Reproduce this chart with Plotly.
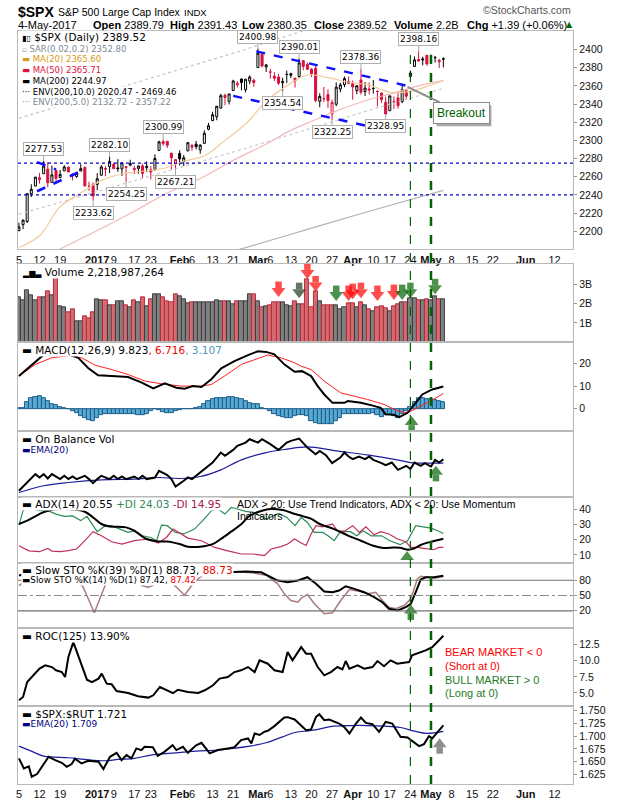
import plotly.graph_objects as go

W, H = 620, 800

# trading-day index: 0 = 5-Dec-2016 ... 103 = 4-May-2017 (weekdays continue to the right)
opens = [2200.65, 2207.26, 2210.72, 2241.13, 2249.73, 2258.83, 2263.32, 2268.35, 2253.77, 2266.81,
         2259.24, 2266.50, 2270.54, 2262.93, 2260.25, 2266.23, 2270.23, 2249.50, 2251.61, 2251.57,
         2261.60, 2268.18, 2271.14, 2273.59, 2269.72, 2268.60, 2271.14, 2272.74, 2269.14, 2269.14,
         2271.90, 2269.96, 2267.78, 2267.88, 2288.88, 2298.63, 2299.02, 2286.01, 2274.02, 2285.59,
         2276.69, 2288.54, 2294.28, 2295.87, 2289.55, 2296.70, 2312.27, 2321.72, 2326.12, 2335.58,
         2349.64, 2343.01, 2354.91, 2361.11, 2367.50, 2355.73, 2365.23, 2366.08, 2380.13, 2394.75,
         2380.92, 2375.23, 2370.74, 2369.81, 2363.49, 2372.52, 2371.56, 2368.55, 2370.34, 2387.71,
         2383.71, 2378.24, 2379.32, 2343.00, 2345.97, 2350.42, 2329.11, 2339.79, 2356.54, 2361.31,
         2364.82, 2362.34, 2354.76, 2366.59, 2353.79, 2356.59, 2357.16, 2353.92, 2352.15, 2341.98,
         2332.62, 2342.53, 2346.79, 2342.69, 2354.74, 2370.33, 2381.51, 2388.98, 2389.70, 2393.68,
         2388.50, 2391.05, 2386.50, 2389.79]
highs = [2209.42, 2212.78, 2241.63, 2251.69, 2259.27, 2264.03, 2277.53, 2276.20, 2272.12, 2268.05,
         2267.47, 2272.56, 2271.23, 2263.18, 2263.79, 2273.82, 2271.31, 2254.51, 2253.58, 2263.88,
         2272.82, 2271.50, 2282.10, 2275.49, 2279.27, 2275.32, 2271.78, 2278.68, 2272.08, 2272.01,
         2274.33, 2276.96, 2271.78, 2284.63, 2299.55, 2300.99, 2299.02, 2286.01, 2279.09, 2289.14,
         2283.97, 2298.31, 2296.18, 2299.40, 2295.91, 2311.08, 2319.23, 2331.58, 2337.58, 2351.30,
         2351.31, 2351.16, 2366.71, 2365.13, 2368.26, 2367.34, 2371.54, 2367.79, 2400.98, 2394.75,
         2383.89, 2378.80, 2375.12, 2373.09, 2369.08, 2376.86, 2374.42, 2368.55, 2390.01, 2388.10,
         2385.71, 2379.55, 2381.93, 2351.81, 2358.92, 2356.22, 2344.90, 2363.78, 2363.36, 2370.42,
         2370.35, 2365.87, 2360.53, 2378.36, 2364.16, 2363.76, 2366.37, 2355.22, 2352.72, 2348.26,
         2349.14, 2348.35, 2352.63, 2361.37, 2356.18, 2376.98, 2392.48, 2398.16, 2392.10, 2393.68,
         2394.49, 2392.93, 2389.82, 2391.43]
lows = [2199.97, 2202.21, 2208.93, 2237.57, 2249.73, 2252.37, 2263.32, 2248.44, 2253.77, 2254.24,
        2258.21, 2266.14, 2265.15, 2256.08, 2258.84, 2266.15, 2249.11, 2244.56, 2233.62, 2245.13,
        2261.60, 2260.45, 2264.06, 2268.90, 2265.27, 2260.83, 2254.25, 2271.51, 2262.81, 2263.35,
        2258.41, 2265.01, 2257.02, 2266.68, 2288.88, 2294.08, 2291.62, 2268.04, 2267.21, 2272.44,
        2271.65, 2287.88, 2288.57, 2290.16, 2285.38, 2296.61, 2311.10, 2321.42, 2322.17, 2334.81,
        2338.87, 2339.58, 2354.91, 2358.34, 2355.09, 2352.87, 2361.87, 2358.96, 2380.13, 2380.17,
        2375.39, 2367.98, 2365.51, 2361.01, 2354.54, 2363.04, 2368.52, 2358.18, 2368.94, 2377.18,
        2377.64, 2369.66, 2341.90, 2336.45, 2342.13, 2335.74, 2322.25, 2337.63, 2352.94, 2358.58,
        2362.60, 2344.73, 2350.72, 2350.52, 2348.90, 2350.74, 2351.50, 2337.25, 2341.18, 2328.95,
        2332.51, 2334.54, 2335.05, 2340.91, 2344.51, 2369.19, 2381.15, 2386.78, 2382.68, 2382.36,
        2384.83, 2385.82, 2379.75, 2380.35]
closes = [2204.71, 2212.23, 2241.35, 2246.19, 2259.53, 2256.96, 2271.72, 2253.28, 2262.03, 2258.07,
          2262.53, 2270.76, 2265.18, 2260.96, 2263.79, 2268.88, 2249.92, 2249.26, 2238.83, 2257.83,
          2270.75, 2269.00, 2276.98, 2268.90, 2268.90, 2275.32, 2270.44, 2274.64, 2267.89, 2271.89,
          2263.69, 2271.31, 2265.20, 2280.07, 2298.37, 2296.68, 2294.69, 2280.90, 2278.87, 2279.55,
          2280.85, 2297.42, 2292.56, 2293.08, 2294.67, 2307.87, 2316.10, 2328.25, 2337.58, 2349.25,
          2347.22, 2351.16, 2365.38, 2362.82, 2363.81, 2367.34, 2369.75, 2363.64, 2395.96, 2381.92,
          2383.12, 2375.31, 2368.39, 2362.98, 2364.87, 2372.60, 2373.47, 2365.45, 2385.26, 2381.38,
          2378.25, 2373.47, 2344.02, 2348.45, 2345.96, 2343.98, 2341.59, 2358.57, 2361.13, 2368.06,
          2362.72, 2358.84, 2360.16, 2352.95, 2357.49, 2355.54, 2357.16, 2353.78, 2344.93, 2328.95,
          2349.01, 2342.19, 2338.17, 2355.84, 2348.69, 2374.15, 2388.61, 2387.45, 2388.77, 2384.20,
          2388.33, 2391.17, 2388.13, 2389.52]
prev_close = 2191.95

volume_b = [2.35, 2.19, 2.69, 2.42, 2.18, 2.35, 2.35, 2.64, 2.42, 3.38,
            1.86, 1.83, 1.55, 1.71, 1.09, 1.09, 1.35, 1.24, 1.55, 2.23,
            2.19, 2.19, 1.93, 1.93, 2.12, 2.12, 1.93, 1.79, 2.19, 2.05,
            2.35, 1.88, 2.23, 2.49, 2.49, 2.35, 2.14, 2.05, 2.49, 2.40,
            2.21, 2.02, 2.07, 2.07, 2.07, 2.07, 2.07, 2.07, 2.19, 2.12,
            2.12, 2.12, 1.97, 2.14, 2.14, 2.14, 2.49, 2.49, 2.12, 1.83,
            1.88, 1.93, 2.07, 2.09, 2.07, 1.93, 1.88, 2.12, 1.97, 1.97,
            3.26, 1.83, 2.66, 2.14, 1.93, 1.93, 1.93, 1.93, 1.72, 1.83,
            2.00, 2.04, 1.79, 2.07, 1.93, 1.72, 1.59, 1.83, 1.86, 1.74,
            1.59, 1.86, 1.97, 2.07, 2.07, 2.26, 2.27, 2.19, 2.17, 2.22,
            2.17, 2.40, 2.22, 2.22]

# price overlays (index, value)
ma20_x = [0, 5, 10, 15, 20, 25, 30, 35, 40, 45, 50, 55, 60, 65, 70, 75, 80, 85, 90, 95, 100, 103]
ma20_y = [2182, 2195, 2227, 2242, 2256, 2263, 2266, 2269, 2277, 2283, 2300, 2318, 2343, 2360, 2372,
          2369, 2364, 2361, 2353, 2354, 2361, 2365.6]
ma50_x = [8, 20, 28, 36, 44, 52, 60, 66, 71, 78, 85, 90, 97, 103]
ma50_y = [2176, 2203, 2222, 2242, 2258, 2278, 2296, 2311, 2321, 2334, 2345, 2351, 2360, 2365.7]
ma200_x = [0, 20, 40, 55, 70, 85, 103]
ma200_y = [2113, 2138, 2163, 2182, 2202, 2222, 2245]
env5_y = [2218.7, 2244.9, 2271.2, 2291.1, 2312.1, 2333.1, 2357.2]
env10_x = [0, 20, 40, 55, 70, 85]
env10_y = [2324.3, 2351.8, 2379.3, 2400.2, 2422.2, 2444.2]

# hand-drawn lines (x0, p0, x1, p1) and levels
trend_lines = [(57.6, 2398, 94.3, 2360), (52, 2349, 90.2, 2310),
               (4.4, 2276, 9, 2268), (4.4, 2244, 15.7, 2267.5)]
price_levels = [2275, 2240]
event_days = [95, 100]
price_labels = [(6, 'h'), (18, 'l'), (22, 'h'), (26, 'l'), (35, 'h'), (38, 'l'), (58, 'h'),
                (64, 'l'), (68, 'h'), (76, 'l'), (83, 'h'), (89, 'l'), (97, 'h')]

# MACD(12,26,9)
macd_x = [0, 3, 5.6, 8, 10, 12.4, 14.4, 16.8, 19.2, 22.5, 26.5, 29.8, 32.6, 35.4, 38.2, 40.2, 42.2,
          44.3, 46.7, 49.1, 52.3, 55.6, 58, 60, 62, 64.4, 66.9, 68.7, 70.9, 72.5, 74.1, 76.1, 79,
          79.8, 83, 85.4, 87.8, 89, 91, 92.3, 94.3, 96.3, 97.9, 100.3, 103]
macd_y = [14.4, 19, 23.2, 25.5, 25, 23.7, 22.5, 18, 14.8, 14.4, 14, 11.5, 9, 11.2, 9.3, 8.8, 10,
          9.6, 13, 17.8, 21, 23.7, 25.4, 25.1, 24, 19.6, 16.3, 16.6, 14.4, 10, 6.3, 2.6, 2.6,
          3.4, 2.6, 1.6, 0.4, -2.5, -2.7, -3.7, -1.8, 2.6, 6.3, 8.5, 9.82]
signal_x = [0, 4, 8, 12.4, 15.2, 18.5, 22.5, 26.5, 30.6, 34.6, 39.4, 44.3, 46.7, 49.9, 54, 60.4,
            63.6, 66.9, 68.5, 70.9, 74.1, 78.1, 84.6, 88.6, 91.9, 94.3, 96.7, 99.9, 103]
signal_y = [14.4, 19.6, 22.5, 23.5, 22.5, 19.2, 17.3, 15.1, 12.2, 11, 10, 10, 10.7, 14.4, 19.6,
            23.7, 22.5, 20.3, 18.8, 17.3, 12.2, 7, 4.1, 1.9, -1, -1.8, 0.4, 3.4, 6.72]
macd_hist = [0.1, 0.44, 3.08, 4.55, 5.14, 5.43, 4.55, 3.38, 2.2, 1.61,
             0.73, 0.44, 0.0, -1.03, -1.76, -3.23, -3.96, -5.14, -5.43, -3.96,
             -2.8, -2.2, -2.2, -2.5, -2.5, -2.5, -2.2, -2.5, -2.5, -2.8,
             -2.8, -2.2, -1.03, -0.29, -0.73, -1.32, -1.76, -1.76, -1.03, -0.73,
             -0.29, -0.29, 0.0, 0.44, 0.73, 1.9, 3.38, 4.1, 4.55, 4.85,
             4.85, 5.14, 5.14, 4.55, 4.1, 3.38, 2.64, 2.2, 1.9, 0.44,
             0.0, -1.03, -2.5, -3.23, -3.67, -3.96, -3.96, -3.23, -2.8, -2.8,
             -3.23, -5.43, -6.17, -6.9, -6.9, -6.9, -6.6, -5.43, -3.96, -2.5,
             -2.2, -2.2, -2.2, -2.2, -2.2, -2.2, -1.76, -2.8, -3.67, -2.8,
             -2.5, -3.23, -3.96, -2.2, -1.03, 0.73, 3.0, 4.85, 4.7, 4.4,
             4.1, 3.8, 3.4, 3.11]

# On Balance Volume (relative units, no scale shown)
obv_x = [0, 2, 4, 5, 6, 7, 8, 10, 11, 12, 13, 14, 16, 17, 18, 19, 20, 22, 23, 24, 25, 26, 28, 29,
         30, 31, 33, 34, 36, 37, 38, 40, 41, 42, 44, 47, 49, 50, 52, 53, 55, 56, 58, 59, 61, 63,
         65, 66, 68, 70, 72, 73, 74.5, 76, 78, 79, 80, 81, 82.5, 84, 85, 86, 88, 89, 90.5, 92,
         94, 95, 96, 97.5, 98.5, 100, 101, 102, 103]
obv_v = [6, 14.3, 22.7, 19.3, 22.7, 18.3, 22.7, 17.7, 21, 17.7, 20.3, 17.7, 21, 17.7, 13.7, 17.7,
         21, 17.7, 21, 17.7, 20.3, 17.7, 20.3, 17.7, 21, 17.7, 19.3, 26, 21.7, 17.7, 10.3, 16,
         19.3, 17.7, 24.3, 34.3, 44.3, 41, 47, 51, 54.3, 57.7, 54.3, 57.7, 52.7, 47, 54.3, 56,
         58.3, 49.3, 42.7, 46, 41.7, 33.7, 39.3, 44.3, 40.3, 37.7, 40.3, 37.7, 40.3, 37, 33.7,
         31.7, 34.3, 27, 31, 27.7, 34.3, 31, 33.7, 30.3, 37, 34.3, 37.7]
obv_ema_x = [0, 6, 12, 20, 28, 34, 39, 44, 49, 54, 60, 65, 70, 77, 85, 93, 95, 101, 103]
obv_ema_v = [4.3, 11, 14.3, 17, 17.7, 19.3, 18.3, 20.3, 27, 37, 44.3, 47.7, 50, 46, 41.7, 36,
             34.3, 33.7, 33.7]

# ADX(14), +DI, -DI
adx_x = [0, 2, 5, 7, 10, 14, 16, 18, 20, 22, 26, 28, 31, 34, 36, 39, 41, 44, 47, 49, 51.5, 54,
         56, 59, 61, 64, 67, 69, 71, 73, 76.5, 80, 83, 86, 88.5, 91, 92.5, 94.5, 96, 97.5, 100, 103]
adx_y = [30.2, 32.4, 36.7, 38.9, 40, 39.5, 38.2, 34.5, 30.2, 28.6, 28, 25.8, 20.4, 18.8, 18.8,
         17.1, 15.4, 15.4, 17.1, 20.4, 25.2, 30.2, 35.6, 38.9, 40, 39.3, 36.7, 35.2, 33.5, 30.2,
         26.9, 22.5, 19.3, 16, 14.5, 14.9, 14.7, 13.4, 14.3, 16.5, 18.6, 20.55]
pdi_x = [0, 1, 2, 3, 5, 7, 9, 11, 13, 15, 16.5, 18, 19, 21, 22.5, 24.5, 26.5, 28, 30, 32, 33.4,
         34.6, 36, 38, 40, 42.6, 45, 46.7, 48.3, 50, 51.5, 53, 55, 57, 60, 63, 65, 67, 68.5, 70,
         71.7, 73.7, 75, 76.5, 78, 80.5, 82, 83.5, 85.5, 88, 90, 92.5, 94.3, 96.3, 98, 100,
         101.5, 103]
pdi_y = [29.5, 38.9, 41, 40, 39, 38.9, 36.7, 35.2, 35.5, 32.4, 35.2, 29.1, 25.2, 29.1, 29.1,
         26.9, 24.7, 25.8, 22.5, 21.4, 19.3, 29.5, 29.1, 24.7, 23.7, 26.9, 33.5, 38.9, 40, 36.7,
         41, 40, 38.5, 37.8, 33.5, 37.1, 34.5, 29.1, 34.5, 31.2, 24.7, 24.7, 22.5, 19.3, 25.2,
         25.2, 22.5, 25.8, 22.5, 22.5, 19.3, 16.7, 19.3, 29.1, 28.4, 27.5, 26, 24.03]
mdi_x = [0, 2.4, 5, 7, 8, 10, 12, 14, 16, 18, 20, 22.5, 25, 28, 31.4, 33.8, 35.8, 37.4, 39.4, 41,
         44.3, 47.5, 50.7, 54, 57, 59.6, 61.2, 63.6, 65.2, 66.9, 68.5, 69.7, 70.9, 72.1, 73.7,
         76.1, 77.3, 79, 81, 82.6, 84.2, 86.2, 87.8, 89.8, 91.9, 93.9, 95.1, 96.7, 98.3, 100.7,
         101.9, 103]
mdi_y = [16, 12.7, 12.1, 14.3, 12.5, 12.1, 12.8, 13.9, 19.3, 25.2, 22.5, 18.6, 17.1, 19.3, 20.4,
         17.8, 21.4, 26.9, 23.7, 21, 19.3, 14.9, 12.7, 10.6, 10.6, 9.5, 13.9, 15.4, 17.1, 20.4,
         17.8, 16.2, 23.7, 29.1, 28.4, 30.2, 25.8, 25.5, 29.1, 24.7, 28.4, 23.1, 25.2, 23.7,
         20.4, 18.6, 14.9, 14.9, 14.3, 13.4, 14.9, 14.95]

# Slow stochastics
sto39_x = [0, 10, 20, 30, 40, 50, 55.2, 58.8, 60.4, 62.8, 65.2, 67.7, 70, 72.1, 74.1, 76.1, 77.7,
           79.3, 81.4, 83.8, 86.2, 88.2, 89.8, 91.9, 93.9, 95.1, 96.3, 97.5, 98.7, 100.7, 103]
sto39_y = [90, 93, 92, 94, 93, 96, 97, 95.7, 89.2, 79.4, 76.1, 79.4, 85.9, 73, 57.8, 56.5, 59.7,
           68.2, 63.1, 56.5, 46.7, 36.9, 23.9, 20.6, 27.1, 33.7, 56.5, 81.4, 85.9, 85.9, 88.73]
sto14_x = [0, 2, 4, 6, 8, 10, 12, 14, 15.6, 18.3, 20.9, 22, 24, 26, 28, 29.8, 31.4, 32.5, 33.8,
           36, 37.8, 40.2, 41.9, 43.5, 45, 48, 51, 54, 57, 60, 62.8, 64.4, 66, 67.7, 68.5, 70,
           71.7, 74.1, 76.1, 78.1, 80.2, 82.6, 84.6, 86.6, 88.2, 89.8, 91.4, 93.5, 95.1, 96.7,
           97.5, 99.1, 100.7, 103]
sto14_y = [69.6, 80, 88, 92, 85, 90, 86, 80, 66.3, 16.1, 69.6, 84, 90, 86, 92, 69.6, 66.3, 70,
           81, 82, 69.6, 50.6, 69.6, 83, 92, 96, 95, 96, 94, 90, 73, 53.3, 40.2, 36.9, 44.7, 52,
           33.7, 14.1, 16.1, 40.2, 61.8, 58.2, 53.3, 56.5, 40.2, 27.1, 23.9, 30.4, 43.5, 82.7,
           87.8, 85.9, 83.9, 87.42]
sto_levels = [80, 50, 20]

# ROC(125)
roc_x = [0, 1, 2, 3.5, 5, 6.4, 8, 9, 10.4, 11.2, 12, 13.2, 14.8, 16.5, 17.7, 19.3, 20.1, 21.3,
         22.5, 23.7, 26.5, 28.9, 31.4, 32.6, 34.2, 36.2, 37.4, 38.6, 41, 43.5, 45.1, 47.1, 48.7,
         50.7, 52.3, 53.9, 55.6, 57.2, 58.4, 60.4, 62, 64, 65.2, 66.4, 68.5, 69.7, 70.9, 72.5,
         74.1, 75.7, 77.3, 78.5, 79.3, 80.2, 82.2, 83.8, 85.8, 87, 88.6, 90.2, 91.8, 93.4, 94.7,
         95.4, 97, 98.7, 100.3, 101.5, 103]
roc_y = [3.86, 4.38, 6.7, 7.74, 8.78, 9.3, 9.03, 8.52, 8.25, 7.48, 10.58, 12.9, 10.07, 7.07, 6.7,
         7.23, 8.0, 6.45, 6.35, 5.3, 4.99, 4.48, 4.28, 4.64, 5.93, 5.42, 4.99, 5.5, 5.16, 4.99,
         5.42, 6.2, 7.23, 7.48, 8.25, 8.52, 9.03, 8.25, 10.07, 9.55, 8.52, 8.25, 11.35, 10.07,
         12.13, 11.1, 11.1, 9.03, 7.74, 8.25, 9.03, 8.65, 9.96, 8.78, 9.3, 8.78, 9.03, 9.96,
         9.16, 10.07, 9.55, 9.68, 9.8, 10.84, 11.2, 11.62, 12.13, 12.9, 13.9]

# $SPX:$RUT ratio and EMA(20)
rut_x = [0, 1.2, 2.4, 3.1, 4.4, 5.6, 7.2, 8.8, 10.4, 11.6, 12.8, 13.6, 15.2, 16.8, 19.3, 20.5,
         22.1, 23.7, 24.9, 26.1, 27.3, 28.5, 29.7, 30.5, 32.5, 33.7, 35.3, 37.3, 38.2, 39.8, 41,
         43, 44.3, 46.3, 48.3, 50.7, 52.3, 53.9, 55.6, 56.4, 57.2, 58.4, 59.6, 60.4, 62, 64.4,
         65.2, 66.9, 68.5, 69.7, 70.9, 72.1, 72.9, 74.1, 75.3, 76.5, 77.7, 78.9, 80.2, 81.8, 83,
         84.2, 85.8, 87.4, 89, 90.6, 92.6, 94.3, 95.5, 97.1, 98.3, 99.5, 100.3, 101.5, 103]
rut_y = [1.6563, 1.6367, 1.6405, 1.6203, 1.6255, 1.6398, 1.6594, 1.6529, 1.6477, 1.6398, 1.645,
         1.6558, 1.6463, 1.6516, 1.6496, 1.6354, 1.6594, 1.6672, 1.6529, 1.6627, 1.6563, 1.6758,
         1.6725, 1.679, 1.678, 1.661, 1.669, 1.682, 1.6725, 1.679, 1.6672, 1.682, 1.6868, 1.666,
         1.6725, 1.6758, 1.678, 1.692, 1.6953, 1.6855, 1.7051, 1.702, 1.7085, 1.7104, 1.7195,
         1.7364, 1.737, 1.7325, 1.7215, 1.7116, 1.713, 1.7375, 1.7427, 1.731, 1.7323, 1.7278,
         1.7245, 1.718, 1.7051, 1.7245, 1.7362, 1.7258, 1.7232, 1.7083, 1.7278, 1.7245, 1.6985,
         1.6972, 1.6907, 1.6803, 1.6842, 1.6998, 1.6953, 1.7064, 1.721]
rut_ema_x = [0, 3, 6, 12, 16, 21, 24, 28, 32, 38, 43, 48, 52, 56, 60, 64, 67, 71, 76.5, 80.6,
             84.6, 88.6, 92.6, 96, 99, 103]
rut_ema_y = [1.6803, 1.6705, 1.6607, 1.6575, 1.6542, 1.6516, 1.6542, 1.6562, 1.6627, 1.6672,
             1.6705, 1.6725, 1.6758, 1.6803, 1.6868, 1.6985, 1.707, 1.711, 1.7193, 1.7206, 1.7206,
             1.7193, 1.7167, 1.7096, 1.7051, 1.709]

# signal arrows
vol_arrow_idx = [63, 68, 70, 72, 77, 80, 81, 83, 87, 91, 93, 95, 101]
vol_arrow_head = [2.66, 2.6, 3.6, 2.95, 2.45, 2.45, 2.55, 2.6, 2.45, 2.5, 2.5, 2.6, 2.8]
vol_arrow_kind = ['red', 'dark', 'red', 'red', 'green', 'red', 'red', 'red', 'red', 'red',
                  'green', 'green', 'green']

tick_idx = [0, 5, 10, 19, 23, 28, 32, 39, 42, 47, 52, 58, 61, 66, 71, 76, 81, 86, 90, 95, 100,
            105, 110, 115, 123, 130]
tick_txt = ['5', '12', '19', '<b>2017</b>', '9', '17', '23', '<b>Feb</b>', '6', '13', '21',
            '<b>Mar</b>', '6', '13', '20', '27', '<b>Apr</b>', '10', '17', '24', '<b>May</b>',
            '8', '15', '22', '<b>Jun</b>', '12']

RED = '#d8103c'
GREEN = '#006400'
FRAME = '#b8b8b8'
arrow_colors = {'red': '#ff0000', 'green': GREEN, 'dark': '#1f3a1f', 'gray': '#606060'}

days = list(range(len(closes)))
prevs = [prev_close] + closes[:-1]
down = [c < p for c, p in zip(closes, prevs)]

# panel rows in pixels (top, bottom) and value ranges
rows = [(29, 248), (263, 341), (341, 430), (430, 496), (496, 562), (562, 628), (628, 706), (706, 784)]
ranges = [[2180, 2420.5], [0, 4.05], [-9.8, 29.4], [0, 66], [5, 48], [-14.7, 114.7],
          [2.94, 15.03], [1.606, 1.7584]]

fig = go.Figure()


def ax(n):
    return ('x' if n == 1 else 'x%d' % n), ('y' if n == 1 else 'y%d' % n)


def line(n, x, y, color, width=1, dash='solid', shape='linear'):
    xa, ya = ax(n)
    fig.add_trace(go.Scatter(x=x, y=y, mode='lines', line=dict(color=color, width=width, dash=dash,
                                                               shape=shape),
                             xaxis=xa, yaxis=ya, hoverinfo='skip'))


# ---- price panel
line(1, env10_x, env10_y, '#c4c4c4', 1.2, 'dot')
line(1, ma200_x, env5_y, '#c8c8c8', 1.2, 'dot')
line(1, ma200_x, ma200_y, '#b4b4b4', 1.2, shape='spline')
line(1, ma50_x, ma50_y, '#f2b8b8', 1.2, shape='spline')
line(1, ma20_x, ma20_y, '#f0cc98', 1.2, shape='spline')

for is_down, col in [(False, '#000000'), (True, RED)]:
    sel = [i for i in days if down[i] == is_down]
    fig.add_trace(go.Candlestick(
        x=sel, open=[opens[i] for i in sel], high=[highs[i] for i in sel],
        low=[lows[i] for i in sel], close=[closes[i] for i in sel],
        increasing=dict(line=dict(color=col, width=1), fillcolor='white'),
        decreasing=dict(line=dict(color=col, width=1), fillcolor=col),
        whiskerwidth=0, xaxis='x', yaxis='y', hoverinfo='skip'))

for x0, p0, x1, p1 in trend_lines:
    fig.add_shape(type='line', xref='x', yref='y', x0=x0, y0=p0, x1=x1, y1=p1,
                  line=dict(color='#1010ff', width=2.5, dash='dash'))
for lvl in price_levels:
    fig.add_shape(type='line', xref='x domain', yref='y', x0=0, x1=1, y0=lvl, y1=lvl,
                  line=dict(color='#0000cc', width=1.2, dash='dot'))

for i, kind in price_labels:
    val = highs[i] if kind == 'h' else lows[i]
    fig.add_annotation(x=i, y=val, xref='x', yref='y', text='%.2f' % val, showarrow=True,
                       ax=0, ay=-12 if kind == 'h' else 12, arrowhead=0, arrowwidth=1,
                       arrowcolor='#a8a8a8', standoff=0,
                       font=dict(family='DejaVu Sans', size=9, color='#000'),
                       bgcolor='white', bordercolor='#b0b0b0', borderwidth=1, borderpad=1)

# breakout call-out: drop shadow, then the box with its pointer
fig.add_shape(type='rect', xref='paper', yref='paper', x0=436 / W, x1=491 / W,
              y0=1 - 124.5 / H, y1=1 - 103.5 / H, line=dict(width=0), fillcolor='#a8a8a8',
              layer='above')
fig.add_annotation(x=94.3, y=2359, xref='x', yref='y', text='Breakout', showarrow=True,
                   ax=54, ay=26, arrowhead=0, arrowwidth=2, arrowcolor='#8c8c8c', standoff=0,
                   font=dict(family='Liberation Sans', size=12, color=GREEN),
                   bgcolor='white', bordercolor='#8c8c8c', borderwidth=1, borderpad=3)

# ---- volume
fig.add_trace(go.Bar(x=days, y=volume_b, width=1,
                     marker=dict(color=['#d46a72' if d else '#808080' for d in down],
                                 line=dict(color=['#b82a38' if d else '#3c3c3c' for d in down],
                                           width=1)),
                     xaxis='x2', yaxis='y2', hoverinfo='skip'))


def arrows(n, xs, heads, kinds, up):
    xa, ya = ax(n)
    top, bot = rows[n - 1]
    per_px = (ranges[n - 1][1] - ranges[n - 1][0]) / (bot - top)
    off = 6.3 * per_px
    for x, h, k in zip(xs, heads, kinds):
        shaft = h - off if up else h + off
        fig.add_trace(go.Scatter(
            x=[x, x], y=[h, shaft], mode='markers', cliponaxis=False, hoverinfo='skip',
            marker=dict(symbol=['triangle-up' if up else 'triangle-down', 'square'], size=[12, 6.5],
                        color=arrow_colors[k], line=dict(width=0)),
            xaxis=xa, yaxis=ya))


arrows(2, vol_arrow_idx, vol_arrow_head, vol_arrow_kind, False)

# ---- MACD
fig.add_trace(go.Bar(x=days, y=macd_hist, width=1,
                     marker=dict(color='#58a8d4', line=dict(color='#1d5f88', width=1)),
                     xaxis='x3', yaxis='y3', hoverinfo='skip'))
line(3, signal_x, signal_y, '#ff2020', 1)
line(3, macd_x, macd_y, '#000000', 2)
arrows(3, [95.3], [-5.9], ['green'], True)

# ---- OBV
line(4, obv_ema_x, obv_ema_v, '#1c1c9c', 1.2, shape='spline')
line(4, obv_x, obv_v, '#000000', 2)
arrows(4, [101.2], [25], ['green'], True)

# ---- ADX
line(5, pdi_x, pdi_y, '#2e8b57', 1.2)
line(5, mdi_x, mdi_y, '#c0305a', 1.2)
line(5, adx_x, adx_y, '#000000', 2, shape='spline')
arrows(5, [94.2], [8.7], ['green'], True)

# ---- Slow STO
for lvl in sto_levels:
    fig.add_shape(type='line', xref='x6 domain', yref='y6', x0=0, x1=1, y0=lvl, y1=lvl,
                  line=dict(color='#707070' if lvl != 50 else '#888888', width=1.2,
                            dash='solid' if lvl != 50 else 'dashdot'))
line(6, sto14_x, sto14_y, '#a87c7c', 1.5)
line(6, sto39_x, sto39_y, '#000000', 2)
arrows(6, [95.1], [20.6], ['green'], True)

# ---- ROC
line(7, roc_x, roc_y, '#000000', 2)

# ---- SPX:RUT
line(8, rut_ema_x, rut_ema_y, '#1c1c9c', 1.2, shape='spline')
line(8, rut_x, rut_y, '#000000', 2)
arrows(8, [102.1], [1.684], ['gray'], True)

# event lines through every panel
for k, e in enumerate(event_days):
    fig.add_shape(type='line', xref='x', yref='paper', x0=e, x1=e, y0=1 - 784 / H, y1=1 - 28 / H,
                  line=dict(color=GREEN, width=1.2 if k == 0 else 2.5, dash='dash'))

# ---- axes
y_ticks = [
    (list(range(2200, 2401, 20)), [str(v) for v in range(2200, 2401, 20)]),
    ([1, 2, 3], ['1B', '2B', '3B']),
    ([0, 10, 20], ['0', '10', '20']),
    ([], []),
    ([10, 20, 30, 40], ['10', '20', '30', '40']),
    ([20, 50, 80], ['20', '50', '80']),
    ([5, 7.5, 10, 12.5], ['5.0', '7.5', '10.0', '12.5']),
    ([1.625, 1.65, 1.675, 1.7, 1.725, 1.75], ['1.625', '1.650', '1.675', '1.700', '1.725', '1.750']),
]
axes = {}
for n in range(1, 9):
    xa, ya = ax(n)
    top, bot = rows[n - 1]
    xkey = 'xaxis' if n == 1 else 'xaxis%d' % n
    ykey = 'yaxis' if n == 1 else 'yaxis%d' % n
    axes[xkey] = dict(domain=[16 / W, 573 / W], range=[-0.24, 134.5], anchor=ya,
                      showgrid=False, zeroline=False, showline=True, mirror=True,
                      linecolor=FRAME, linewidth=1, tickmode='array', tickvals=tick_idx,
                      ticktext=tick_txt, showticklabels=n in (1, 8), tickangle=0, ticks='',
                      tickfont=dict(family='Liberation Sans', size=11, color='#111'),
                      rangeslider=dict(visible=False))
    if n > 1:
        axes[xkey]['matches'] = 'x'
    tv, tt = y_ticks[n - 1]
    axes[ykey] = dict(domain=[1 - bot / H, 1 - top / H], range=ranges[n - 1], side='right',
                      anchor=xa, showgrid=False, zeroline=False, showline=True, mirror=True,
                      linecolor=FRAME, linewidth=1, tickmode='array', tickvals=tv, ticktext=tt,
                      ticks='outside', ticklen=3, tickcolor='#999',
                      tickfont=dict(family='Liberation Sans', size=10.5, color='#111'))
fig.update_layout(**axes)


# ---- text
def label(x, y, text, size=11, color='#000', family='DejaVu Sans', bg='white'):
    fig.add_annotation(x=x / W, y=1 - y / H, xref='paper', yref='paper', text=text,
                       showarrow=False, xanchor='left', yanchor='middle', bgcolor=bg, borderpad=0,
                       font=dict(family=family, size=size, color=color))


label(15, 10, '<b>$SPX</b>', 14, family='Liberation Sans', bg=None)
label(55, 10, 'S&amp;P 500 Large Cap Index', 10.5, family='Liberation Sans', bg=None)
label(182, 10.5, 'INDX', 9.5, family='Liberation Sans', bg=None)
label(15, 23, '4-May-2017', 11, family='Liberation Sans', bg=None)
for x, k, v in [(90, 'Open', '2389.79'), (168, 'High', '2391.43'), (240, 'Low', '2380.35'),
                (312, 'Close', '2389.52'), (392, 'Volume', '2.2B'),
                (466, 'Chg', '+1.39 (+0.06%)')]:
    label(x, 23, '<b>%s</b> %s' % (k, v), 11, family='Liberation Sans', bg=None)
label(565, 23, '▲', 8, color=GREEN, family='DejaVu Sans', bg=None)
label(482, 8, '©StockCharts.com', 10.5, color='#555', family='Liberation Sans', bg=None)

label(19, 35, "<span style='font-size:8px'>▮▯</span> $SPX (Daily) 2389.52", 10.5)
label(19, 46.7, "<span style='font-size:7px'>▫</span> SAR(0.02,0.2) 2352.80", 8.5, '#7d8a96')
label(19, 57.3, '▬ MA(20) 2365.60', 8.5, '#d89a18')
label(19, 68.5, '▬ MA(50) 2365.71', 8.5, '#dc143c')
label(19, 79.5, '▬ MA(200) 2244.97', 8.5)
label(19, 90.5, '··· ENV(200,10.0) 2020.47 - 2469.46', 8.5)
label(19, 100.7, '··· ENV(200,5.0) 2132.72 - 2357.22', 8.5, '#7d8a96')

label(19, 270.7, "<span style='font-size:8px'>▂▆▃</span> Volume 2,218,987,264", 10.5)
label(19, 348.5, "▬ MACD(12,26,9) 9.823<span style='color:#ee0000'>, 6.716</span>"
                 "<span style='color:#4a98c0'>, 3.107</span>", 10.5)
label(19, 437.7, '▬ On Balance Vol', 10.5)
label(19, 448.7, '▬EMA(20)', 9, '#000080')
label(19, 503.3, "▬ ADX(14) 20.55 <span style='color:#2e8b57'>+DI 24.03</span> "
                 "<span style='color:#a0204a'>-DI 14.95</span>", 10.5)
label(235, 503.3, 'ADX &gt; 20: Use Trend Indicators, ADX &lt; 20: Use Momentum', 10.5,
      family='Liberation Sans', bg=None)
label(235, 515.7, 'Indicators', 10.5, family='Liberation Sans', bg=None)
label(19, 569, "▬ Slow STO %K(39) %D(1) 88.73, <span style='color:#ee0000'>88.73</span>", 10.5)
label(19, 579.7, "▬Slow STO %K(14) %D(1) 87.42, <span style='color:#ee0000'>87.42</span>", 8.8)
label(19, 635.7, '▬ ROC(125) 13.90%', 10.5)
label(443, 652, 'BEAR MARKET &lt; 0', 11, '#ff0000', 'Liberation Sans', None)
label(443, 665.5, '(Short at 0)', 11, '#ff0000', 'Liberation Sans', None)
label(443, 679.5, 'BULL MARKET &gt; 0', 11, '#1e7b1e', 'Liberation Sans', None)
label(443, 693, '(Long at 0)', 11, '#1e7b1e', 'Liberation Sans', None)
label(19, 713.3, '▬ $SPX:$RUT 1.721', 10.5)
label(19, 724.3, '▬EMA(20) 1.709', 9, '#000080')

fig.update_layout(width=W, height=H, margin=dict(l=0, r=0, t=0, b=0), showlegend=False,
                  paper_bgcolor='white', plot_bgcolor='white', bargap=0,
                  font=dict(family='Liberation Sans', size=11, color='#111'))

# the page's default body margin would push the 620x800 figure off the window
fig.write_html("out.html", config={'displayModeBar': False},
               post_script="document.body.style.margin='0';")
